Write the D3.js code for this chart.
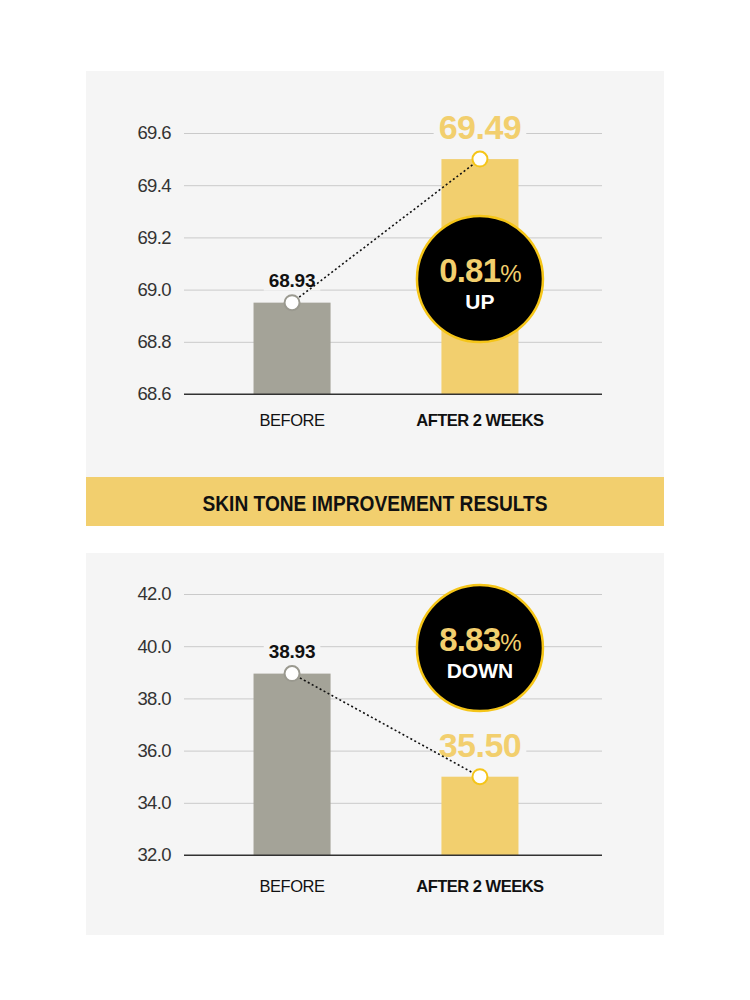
<!DOCTYPE html>
<html>
<head>
<meta charset="utf-8">
<script src="https://cdnjs.cloudflare.com/ajax/libs/d3/7.8.5/d3.min.js"></script>
<style>
  body { margin: 0; background: #fff; }
  svg text { font-family: "Liberation Sans", Arial, sans-serif; }
</style>
</head>
<body>
<div id="chart"></div>
<script>

//Data
var categories = ["BEFORE", "AFTER 2 WEEKS"];

var toneValues = [68.95, 69.5];
var toneLabels = ["68.93", "69.49"];
var toneTicks = [68.6, 68.8, 69.0, 69.2, 69.4, 69.6];
var toneChange = ["0.81", "UP"];

var spotValues = [38.95, 35.0];
var spotLabels = ["38.93", "35.50"];
var spotTicks = [32, 34, 36, 38, 40, 42];
var spotChange = ["8.83", "DOWN"];

var bannerTitle = "SKIN TONE IMPROVEMENT RESULTS";

///////////////////////////////////////////////////////////////////////////
//////////////////////////// Set up the svg ///////////////////////////////
///////////////////////////////////////////////////////////////////////////

var width = 750,
	height = 1000;

var yellow = "#F2CF6E",
	ring = "#F5C518",
	grey = "#A4A398",
	panelBg = "#F5F5F5";

var svg = d3.select("#chart").append("svg")
	.attr("width", width)
	.attr("height", height);

svg.append("rect").attr("width", width).attr("height", height).style("fill", "#fff");

//Panels
svg.append("rect")
	.attr("x", 86).attr("y", 71)
	.attr("width", 578).attr("height", 406)
	.style("fill", panelBg);

svg.append("rect")
	.attr("x", 86).attr("y", 553)
	.attr("width", 578).attr("height", 382)
	.style("fill", panelBg);

//Banner
svg.append("rect")
	.attr("x", 86).attr("y", 477)
	.attr("width", 578).attr("height", 49)
	.style("fill", yellow);

svg.append("text")
	.attr("x", 375)
	.attr("y", 511)
	.attr("text-anchor", "middle")
	.attr("textLength", 345)
	.attr("lengthAdjust", "spacingAndGlyphs")
	.style("font-size", "22px")
	.style("font-weight", 700)
	.style("fill", "#111")
	.text(bannerTitle);

///////////////////////////////////////////////////////////////////////////
/////////////////////////// Draw one chart ////////////////////////////////
///////////////////////////////////////////////////////////////////////////

function drawChart(opts) {

	var g = svg.append("g");

	var x = d3.scaleBand()
		.domain(categories)
		.range([184, 588])
		.paddingInner(0.59)
		.paddingOuter(0.37);

	var y = d3.scaleLinear()
		.domain(d3.extent(opts.ticks))
		.range(opts.yRange);

	//Grid + tick labels
	var axis = g.append("g")
		.attr("transform", "translate(184,0)")
		.call(d3.axisLeft(y)
			.tickValues(opts.ticks)
			.tickSize(-(602 - 184))
			.tickPadding(13)
			.tickFormat(d3.format(".1f")));

	axis.select(".domain").remove();
	axis.selectAll(".tick line")
		.style("stroke", function(d, i) { return i === 0 ? "#333" : "#CACACA"; })
		.style("stroke-width", function(d, i) { return i === 0 ? 1.2 : 1; });
	axis.selectAll(".tick text")
		.style("font-family", "'Liberation Sans', Arial, sans-serif")
		.style("font-size", "18.5px")
		.style("fill", "#333")
		.style("letter-spacing", "-0.6px");

	//Bars
	g.selectAll(".bar")
		.data(opts.values)
		.enter().append("rect")
		.attr("x", function(d, i) { return x(categories[i]); })
		.attr("y", function(d) { return y(d); })
		.attr("width", x.bandwidth())
		.attr("height", function(d) { return y.range()[0] - y(d); })
		.style("fill", function(d, i) { return i === 0 ? grey : yellow; });

	//Redraw baseline on top of bars
	g.append("line")
		.attr("x1", 184).attr("x2", 602)
		.attr("y1", y.range()[0]).attr("y2", y.range()[0])
		.style("stroke", "#333")
		.style("stroke-width", 1.2);

	//Category labels
	g.selectAll(".cat")
		.data(categories)
		.enter().append("text")
		.attr("x", function(d) { return x(d) + x.bandwidth() / 2; })
		.attr("y", opts.catY)
		.attr("text-anchor", "middle")
		.style("font-size", "16.5px")
		.style("font-weight", function(d, i) { return i === 0 ? 400 : 700; })
		.style("letter-spacing", "-0.5px")
		.style("fill", "#111")
		.text(function(d) { return d; });

	var cx = function(i) { return x(categories[i]) + x.bandwidth() / 2; };

	//Value labels with a background knocking out the grid
	opts.labels.forEach(function(lbl, i) {
		var big = i === 1;
		var t = g.append("text")
			.attr("x", cx(i))
			.attr("y", y(opts.values[i]) - (big ? 20 : 16))
			.attr("text-anchor", "middle")
			.style("font-size", big ? "34px" : "19px")
			.style("font-weight", 700)
			.style("letter-spacing", big ? "-0.5px" : "-0.2px")
			.style("fill", big ? yellow : "#111")
			.text(lbl);
		var bb = t.node().getBBox();
		g.insert("rect", function() { return t.node(); })
			.attr("x", bb.x - 5).attr("y", bb.y)
			.attr("width", bb.width + 10).attr("height", bb.height)
			.style("fill", panelBg);
	});

	//Dotted connector
	g.append("line")
		.attr("x1", cx(0)).attr("y1", y(opts.values[0]))
		.attr("x2", cx(1)).attr("y2", y(opts.values[1]))
		.style("stroke", "#111")
		.style("stroke-width", 1.6)
		.style("stroke-dasharray", "2,2.5");

	//Markers
	g.selectAll(".marker")
		.data(opts.values)
		.enter().append("circle")
		.attr("cx", function(d, i) { return cx(i); })
		.attr("cy", function(d) { return y(d); })
		.attr("r", 7.5)
		.style("fill", "#fff")
		.style("stroke", function(d, i) { return i === 0 ? "#9A998F" : ring; })
		.style("stroke-width", 2);

	//Change badge
	var badge = g.append("g")
		.attr("transform", "translate(" + cx(1) + "," + opts.badgeY + ")");

	badge.append("circle")
		.attr("r", 63)
		.style("fill", "#000")
		.style("stroke", ring)
		.style("stroke-width", 2.5);

	var pct = badge.append("text")
		.attr("y", 3)
		.attr("text-anchor", "middle")
		.style("font-size", "33px")
		.style("font-weight", 700)
		.style("letter-spacing", "-0.8px")
		.style("fill", yellow);
	pct.append("tspan").text(opts.change[0]);
	pct.append("tspan").style("font-size", "24px").style("font-weight", 400).text("%");

	badge.append("text")
		.attr("y", 30)
		.attr("text-anchor", "middle")
		.style("font-size", "21px")
		.style("font-weight", 700)
		.style("fill", "#fff")
		.text(opts.change[1]);
}

drawChart({
	values: toneValues,
	labels: toneLabels,
	ticks: toneTicks,
	change: toneChange,
	yRange: [394, 133],
	catY: 426,
	badgeY: 279
});

drawChart({
	values: spotValues,
	labels: spotLabels,
	ticks: spotTicks,
	change: spotChange,
	yRange: [855, 594],
	catY: 892,
	badgeY: 648
});

</script>
</body>
</html>
